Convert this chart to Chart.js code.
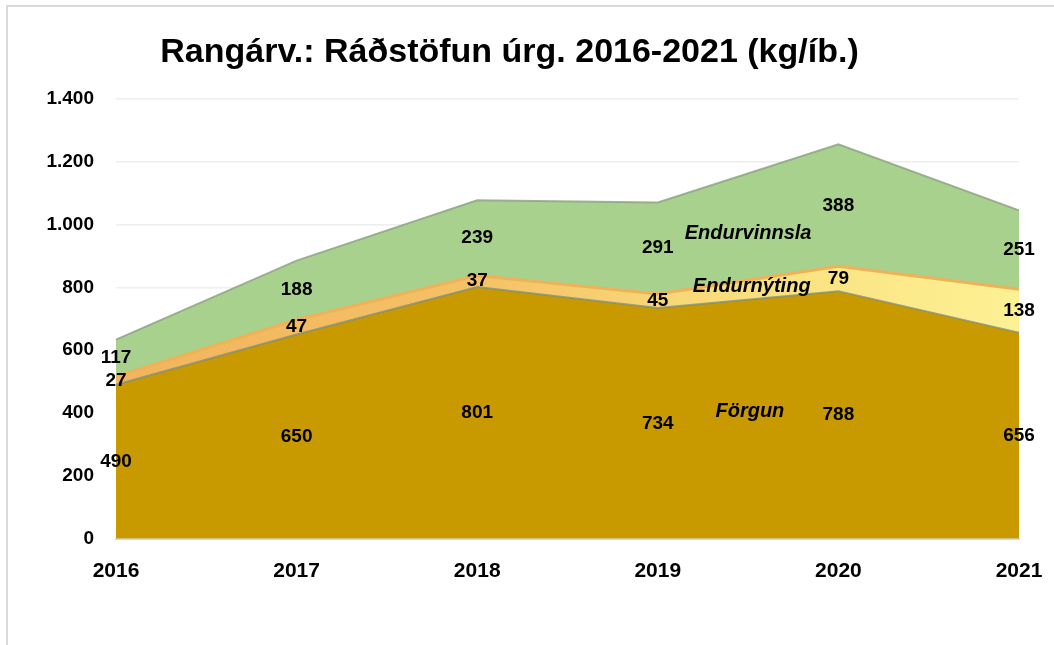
<!DOCTYPE html>
<html lang="is">
<head>
<meta charset="UTF-8">
<title>Rangárv.: Ráðstöfun úrg. 2016-2021</title>
<script src="https://cdn.jsdelivr.net/npm/chart.js"></script>
<style>
    body { margin: 0; background: #fff; }
    #wrap { width: 1054px; height: 645px; position: relative; }
</style>
</head>
<body>
<div id="wrap"><canvas id="c"></canvas></div>
<script>
    // data (kg per inhabitant)
    const years = ['2016', '2017', '2018', '2019', '2020', '2021'];
    const forgun = [490, 650, 801, 734, 788, 656];
    const endurnyting = [27, 47, 37, 45, 79, 138];
    const endurvinnsla = [117, 188, 239, 291, 388, 251];
    const yTicks = [0, 200, 400, 600, 800, 1000, 1200, 1400];

    // series names written inside the areas: [text, x position (category index), y value]
    const areaNames = [
        ['Förgun', 3.51, 405],
        ['Endurnýting', 3.52, 804],
        ['Endurvinnsla', 3.5, 973]
    ];

    function fmt(v) {
        return String(v).replace(/\B(?=(\d{3})+(?!\d))/g, '.');
    }

    function yellowFill(context) {
        const chart = context.chart;
        const ca = chart.chartArea;
        if (!ca) return '#F6CC6E';
        const g = chart.ctx.createLinearGradient(ca.left, 0, ca.right, 0);
        g.addColorStop(0, '#F2B45E');
        g.addColorStop(0.4, '#F4C266');
        g.addColorStop(0.7, '#F9DF7E');
        g.addColorStop(1, '#FDF194');
        return g;
    }

    // grey frame line at left and top
    const framePlugin = {
        id: 'frame',
        beforeDraw(chart) {
            const ctx = chart.ctx;
            ctx.save();
            ctx.strokeStyle = '#D9D9D9';
            ctx.lineWidth = 2;
            ctx.beginPath();
            ctx.moveTo(7, chart.height);
            ctx.lineTo(7, 6);
            ctx.lineTo(chart.width, 6);
            ctx.stroke();
            ctx.restore();
        }
    };

    // value labels in the middle of every band + area names
    const labelPlugin = {
        id: 'bandLabels',
        afterDatasetsDraw(chart) {
            const ctx = chart.ctx;
            const xs = chart.scales.x, ys = chart.scales.y;
            ctx.save();
            ctx.fillStyle = '#000';
            ctx.textAlign = 'center';
            ctx.textBaseline = 'middle';
            ctx.font = 'bold 19px "Liberation Sans", Arial, sans-serif';
            chart.data.datasets.forEach((ds, i) => {
                ds.data.forEach((v, j) => {
                    let base = 0;
                    for (let k = 0; k < i; k++) base += chart.data.datasets[k].data[j];
                    const x = xs.getPixelForValue(j);
                    const y = ys.getPixelForValue(base + v / 2);
                    ctx.fillText(String(v), x, y);
                });
            });
            ctx.font = 'italic bold 20px "Liberation Sans", Arial, sans-serif';
            areaNames.forEach(n => {
                ctx.fillText(n[0], xs.getPixelForValue(n[1]), ys.getPixelForValue(n[2]));
            });
            ctx.restore();
        }
    };

    new Chart(document.getElementById('c'), {
        type: 'line',
        data: {
            labels: years,
            datasets: [
                {
                    label: 'Förgun',
                    data: forgun,
                    fill: 'origin',
                    backgroundColor: '#C99A00',
                    borderColor: 'rgba(125,140,120,0.75)',
                    borderWidth: 2,
                    pointRadius: 0,
                    tension: 0
                },
                {
                    label: 'Endurnýting',
                    data: endurnyting,
                    fill: '-1',
                    backgroundColor: yellowFill,
                    borderColor: '#F0B257',
                    borderWidth: 3,
                    pointRadius: 0,
                    tension: 0
                },
                {
                    label: 'Endurvinnsla',
                    data: endurvinnsla,
                    fill: '-1',
                    backgroundColor: '#A9D18E',
                    borderColor: 'rgba(140,160,130,0.8)',
                    borderWidth: 2,
                    pointRadius: 0,
                    tension: 0
                }
            ]
        },
        options: {
            responsive: true,
            maintainAspectRatio: false,
            animation: false,
            layout: { padding: { left: 0, right: 35, top: 0, bottom: 41 } },
            plugins: {
                legend: { display: false },
                tooltip: { enabled: false },
                title: {
                    display: true,
                    text: 'Rangárv.: Ráðstöfun úrg. 2016-2021 (kg/íb.)',
                    color: '#000',
                    font: { family: '"Liberation Sans", Arial, sans-serif', size: 34, weight: 'bold' },
                    padding: { top: 32, bottom: 26 }
                }
            },
            scales: {
                x: {
                    offset: false,
                    afterFit(axis) {
                        axis.paddingRight = 0;
                        axis.paddingLeft = 0;
                    },
                    grid: { display: false, drawTicks: false },
                    border: { display: true, color: '#D9D9D9', width: 2 },
                    ticks: {
                        color: '#000',
                        padding: 20,
                        maxRotation: 0,
                        font: { family: '"Liberation Sans", Arial, sans-serif', size: 21, weight: 'bold' }
                    }
                },
                y: {
                    stacked: true,
                    min: 0,
                    max: 1400,
                    afterBuildTicks(axis) {
                        axis.ticks = yTicks.map(v => ({ value: v }));
                    },
                    afterFit(axis) {
                        axis.width = 116;
                    },
                    grid: { color: '#EEEEEE', lineWidth: 1.5, drawTicks: false },
                    border: { display: false },
                    ticks: {
                        color: '#000',
                        padding: 22,
                        font: { family: '"Liberation Sans", Arial, sans-serif', size: 19, weight: 'bold' },
                        callback: v => fmt(v)
                    }
                }
            }
        },
        plugins: [framePlugin, labelPlugin]
    });
</script>
</body>
</html>
